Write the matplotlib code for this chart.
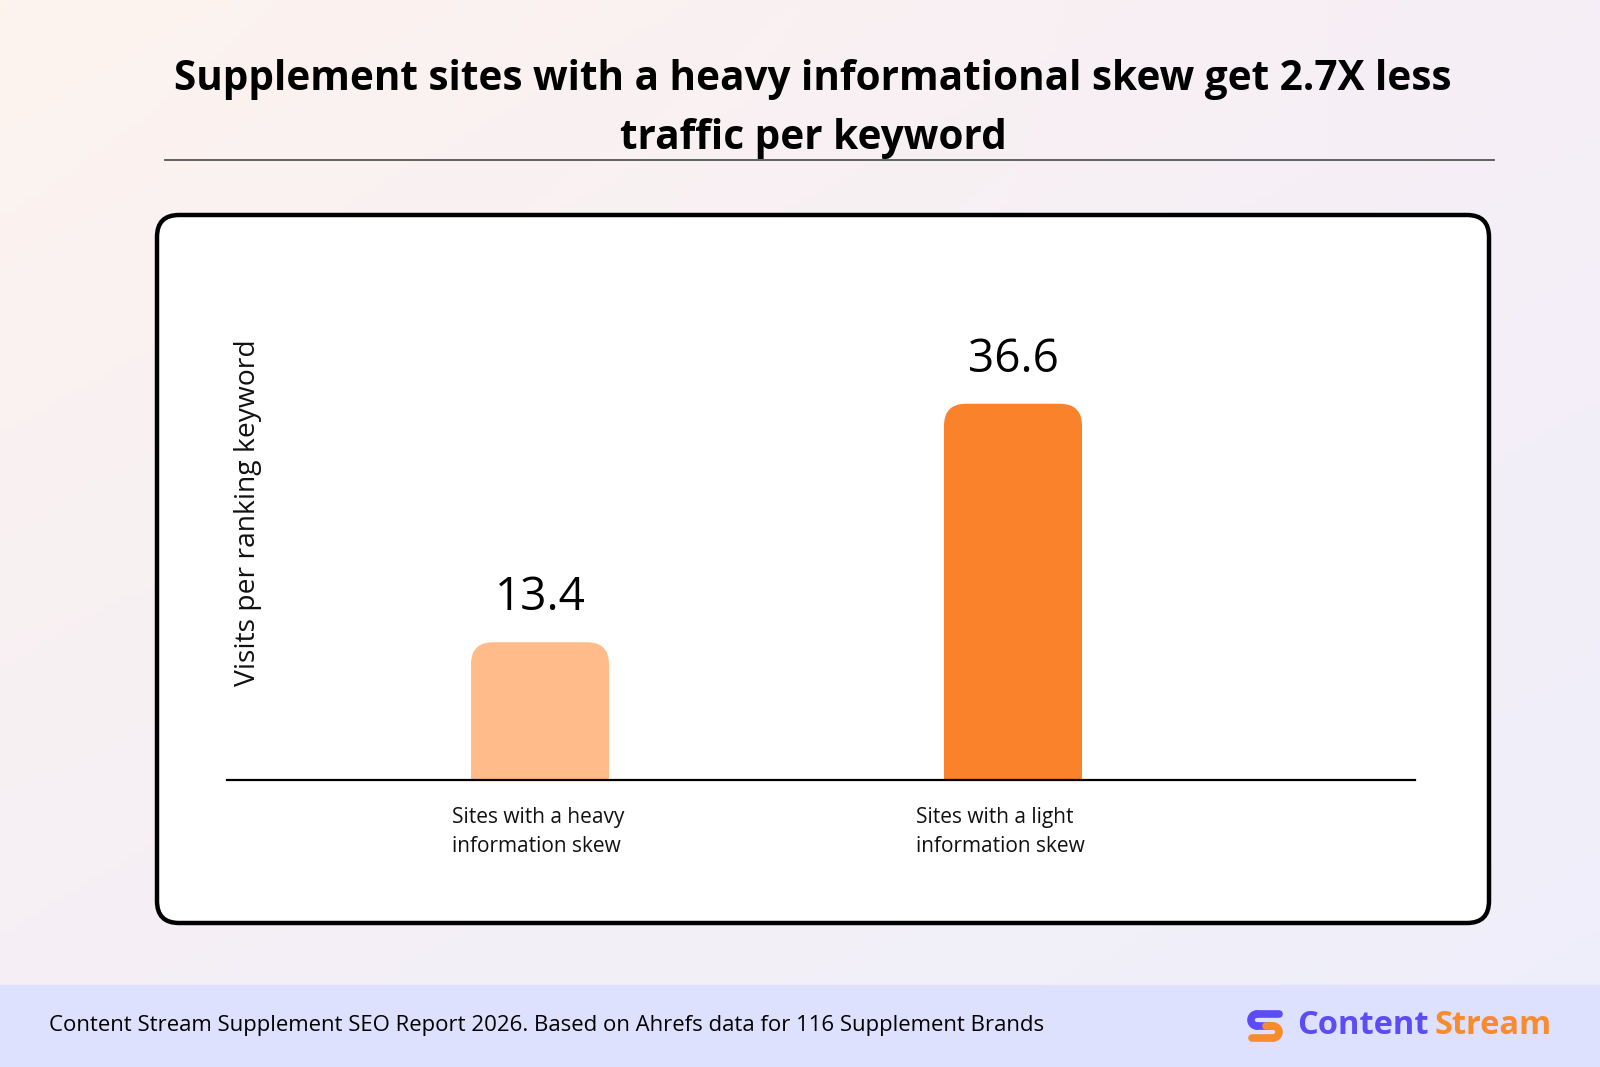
import matplotlib.pyplot as plt
import numpy as np
from matplotlib.patches import FancyBboxPatch, Rectangle

# data
categories = ["Sites with a heavy\ninformation skew", "Sites with a light\ninformation skew"]
values = [13.4, 36.6]
value_labels = ["13.4", "36.6"]
bar_colors = ["#FFBC8A", "#F9822A"]

title_lines = ["Supplement sites with a heavy informational skew get 2.7X less",
               "traffic per keyword"]
y_label = "Visits per ranking keyword"
footer = "Content Stream Supplement SEO Report 2026. Based on Ahrefs data for 116 Supplement Brands"

W, H = 1600, 1067
fig = plt.figure(figsize=(W / 100, H / 100), dpi=100)

# background in pixel coords
bg = fig.add_axes([0, 0, 1, 1])
bg.set_xlim(0, W)
bg.set_ylim(H, 0)
bg.axis("off")

# soft gradient
c_tl = np.array([253, 244, 238]) / 255
c_tr = np.array([246, 238, 246]) / 255
c_bl = np.array([245, 239, 246]) / 255
c_br = np.array([238, 239, 251]) / 255
u = np.linspace(0, 1, 200)[None, :, None]
v = np.linspace(0, 1, 140)[:, None, None]
grad = (1 - v) * ((1 - u) * c_tl + u * c_tr) + v * ((1 - u) * c_bl + u * c_br)
bg.imshow(grad, extent=[0, W, H, 0], aspect="auto", zorder=0)

# footer band
bg.add_patch(Rectangle((0, 985), W, H - 985, color="#DDE1FD", zorder=1))

# white card
bg.add_patch(FancyBboxPatch((157, 215), 1332, 708,
                            boxstyle="round,pad=0,rounding_size=22",
                            fc="white", ec="black", lw=3.2, zorder=2))

# title + rule
bg.text(813, 90, title_lines[0], ha="center", va="baseline", fontsize=29.2,
        fontweight="bold", family="Open Sans", color="black", zorder=3)
bg.text(813, 149, title_lines[1], ha="center", va="baseline", fontsize=29.2,
        fontweight="bold", family="Open Sans", color="black", zorder=3)
bg.plot([165, 1494], [160, 160], color="#555555", lw=1.3, zorder=3)

# footer text
bg.text(49, 1025, footer, ha="left", va="center", fontsize=15.9,
        family="Open Sans", color="black", zorder=3)

# logo icon
bg.plot([1279, 1257], [1014, 1014], color="#5B4CF5", lw=5.5, solid_capstyle="round", zorder=3)
t = np.linspace(np.pi / 2, 3 * np.pi / 2, 20)
bg.plot(1257 + 6 * np.cos(t), 1020 - 6 * np.sin(t), color="#5B4CF5", lw=5.5,
        solid_capstyle="round", zorder=3)
bg.plot([1257, 1270], [1026, 1026], color="#5B4CF5", lw=5.5, solid_capstyle="round", zorder=3)
bg.plot(1273 + 6 * np.cos(t + np.pi), 1032 - 6 * np.sin(t + np.pi), color="#F98B2C",
        lw=5.5, solid_capstyle="round", zorder=3)
bg.plot([1273, 1252], [1038, 1038], color="#F98B2C", lw=5.5, solid_capstyle="round", zorder=3)
bg.plot([1266, 1273], [1026, 1026], color="#F98B2C", lw=5.5, solid_capstyle="round", zorder=3)
bg.text(1297, 1025, "Content", ha="left", va="center", fontsize=23.5,
        fontweight="bold", family="Open Sans", color="#5B4CF5", zorder=3)
bg.text(1435, 1025, "Stream", ha="left", va="center", fontsize=23.5,
        fontweight="bold", family="Open Sans", color="#F98B2C", zorder=3)

# chart axes
px_per_unit = 10.28
px_per_cat = 473
ax_left, ax_right, base = 227, 1415, 780
ymax = 40
ax_h = ymax * px_per_unit
ax = fig.add_axes([ax_left / W, (H - base) / H, (ax_right - ax_left) / W, ax_h / H])
ax.set_zorder(5)
ax.patch.set_alpha(0)

x = np.arange(len(values))
bar_w = 138 / px_per_cat
bars = ax.bar(x, values, width=bar_w, color=bar_colors)
ax.set_xlim(-(540 - ax_left) / px_per_cat, 1 + (ax_right - 1013) / px_per_cat)
ax.set_ylim(0, ymax)

# rounded tops
r = 22 / px_per_cat
for b, c in zip(bars, bar_colors):
    bx, by, bw, bh = b.get_x(), b.get_y(), b.get_width(), b.get_height()
    b.set_visible(False)
    ax.add_patch(FancyBboxPatch((bx, by), bw, bh, boxstyle=f"round,pad=0,rounding_size={r}",
                                mutation_aspect=px_per_cat / px_per_unit, fc=c, ec="none"))
    ax.add_patch(Rectangle((bx, by), bw, bh / 2, fc=c, ec="none"))

for xi, v_, lab in zip(x, values, value_labels):
    ax.annotate(lab, (xi, v_), xytext=(0, 23), textcoords="offset points",
                ha="center", va="baseline", fontsize=33, family="Open Sans", color="black")

label_dx = [-63, -69.5]
for xi, lab, dx in zip(x, categories, label_dx):
    ax.annotate(lab, (xi, 0), xytext=(dx, -52), textcoords="offset points",
                ha="left", va="baseline", fontsize=15, family="Open Sans",
                color="#111111", linespacing=1.5)

for s in ["top", "right", "left"]:
    ax.spines[s].set_visible(False)
ax.spines["bottom"].set_linewidth(1.6)
ax.set_xticks([])
ax.set_yticks([])
ax.set_ylabel(y_label, fontsize=20.3, family="Open Sans", color="#111111")
ax.yaxis.set_label_coords((262 - ax_left) / (ax_right - ax_left), (base - 513) / ax_h)

fig.savefig("out.png", dpi=100)
